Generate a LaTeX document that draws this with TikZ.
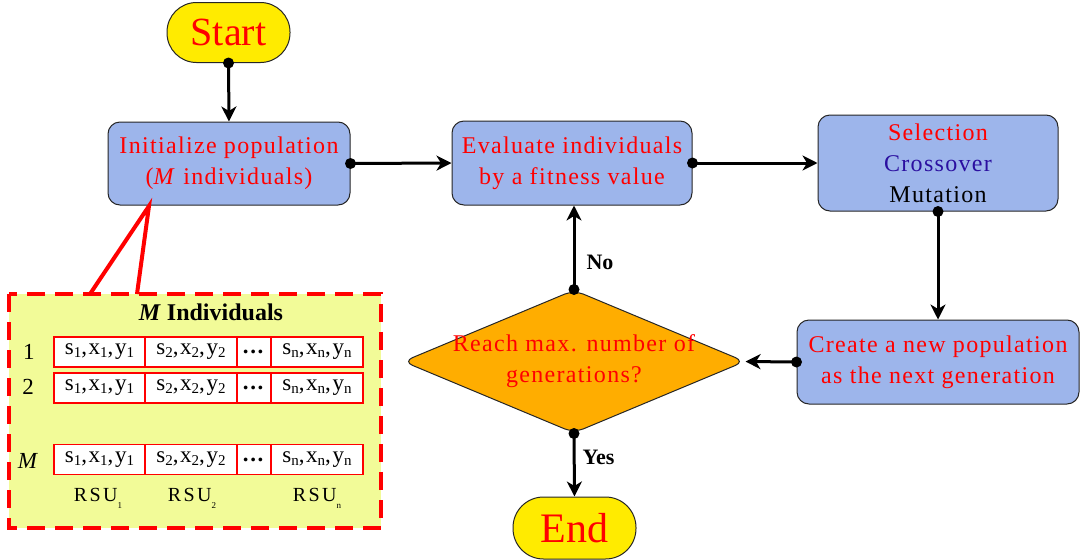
\documentclass[tikz,border=0pt]{standalone}
\usepackage{fontspec}
\setmainfont{Liberation Serif}
\newfontfamily\lsfont[LetterSpace=5.5]{Liberation Serif}
\newfontfamily\cellfont[LetterSpace=7]{Liberation Serif}
\newfontfamily\rsufont[LetterSpace=12]{Liberation Serif}
\usetikzlibrary{arrows.meta,shapes.geometric}
\definecolor{boxblue}{RGB}{157,181,235}
\definecolor{termyellow}{RGB}{255,235,0}
\definecolor{decorange}{RGB}{255,173,0}
\definecolor{panelfill}{RGB}{242,251,152}
\definecolor{crosscol}{RGB}{43,15,160}
\newcommand\csub[1]{\raisebox{-3pt}{\fontsize{15}{15}\selectfont #1}}
\newcommand\rsub[1]{\raisebox{-7pt}{\fontsize{9}{9}\selectfont #1}}
\newcommand\cellt[1]{s\csub{#1},x\csub{#1},y\csub{#1}}
\tikzset{
  proc/.style={draw=black!85, line width=1pt, fill=boxblue, rounded corners=12pt,
    align=center, text=red, inner sep=0pt, font=\lsfont\fontsize{24}{31}\selectfont},
  term/.style={draw=black!85, line width=1pt, fill=termyellow, rounded corners=29.5pt,
    minimum width=123pt, minimum height=60pt, text=red, inner sep=0pt},
  conn/.style={line width=3pt, -{Stealth[length=15pt,width=15pt,inset=4.5pt]}},
  cell/.style={draw=red, line width=1.5pt, fill=white, minimum height=30pt, inner sep=0pt,
    font=\cellfont\fontsize{23}{23}\selectfont},
  lbl/.style={font=\bfseries\fontsize{22}{22}\selectfont, anchor=west},
  rowlbl/.style={font=\fontsize{23}{23}\selectfont},
}
\begin{document}
\begin{tikzpicture}[x=1pt,y=-1pt]
\useasboundingbox (0,0) rectangle (1080,560);

% left panel
\draw[red, line width=4pt, dash pattern=on 18pt off 10pt, fill=panelfill] (9,294) rectangle (381,528);

% terminals and process boxes
\node[term, font=\fontsize{40}{40}\selectfont] (start) at (228.5,32.5) {Start};
\node[term, minimum height=62pt, rounded corners=30.5pt, font=\fontsize{42}{42}\selectfont] (end) at (574.5,528) {End};
\node[proc, minimum width=242pt, minimum height=83pt] (init) at (229,163.5)
  {Initialize population\\(\textit{M} individuals)};
\node[proc, minimum width=240pt, minimum height=84pt] (eval) at (572,163)
  {Evaluate individuals\\by a fitness value};
\node[proc, minimum width=240pt, minimum height=96pt] (sel) at (938,163)
  {Selection\\{\color{crosscol}Crossover}\\{\color{black}Mutation}};
\node[proc, minimum width=282pt, minimum height=84pt] (create) at (938,362)
  {Create a new population\\as the next generation};
\node[diamond, draw=black!85, line width=1pt, fill=decorange, aspect=2.39,
  minimum width=342pt, minimum height=143pt, rounded corners=10pt, inner sep=-15pt,
  align=center, text=red, font=\lsfont\fontsize{24}{31}\selectfont] (dia) at (574,361.5)
  {Reach max. number of\\generations?};

% connectors
\draw[conn] (start.south) -- (init.north);
\draw[conn] (init.east) -- (eval.west);
\draw[conn] (eval.east) -- (sel.west);
\draw[conn] (sel.south) -- (create.north);
\draw[conn] (create.west) -- (dia.east);
\draw[conn] (dia.north) -- (dia.north |- eval.south);
\draw[conn] (dia.south) -- (end.north);
\foreach \a in {start.south, init.east, eval.east, sel.south, create.west, dia.north, dia.south}
  \fill (\a) circle (5.5pt);

\node[lbl] (no) at (583,262) {No};
\node[lbl] (yes) at (579,457) {Yes};

% callout
\coordinate (tip) at (149,206);
\coordinate (pl) at (90,294);
\coordinate (pr) at (137,294);
\draw[red, line width=4pt, line join=miter] (pl) -- (tip) -- (pr);

% panel content
\node[font=\fontsize{24}{24}\selectfont] (title) at (211,312) {\textbf{\textit{M}} \textbf{Individuals}};
\node[rowlbl] (r1) at (29,352) {1};
\node[rowlbl] (r2) at (28,387) {2};
\node[rowlbl] (rm) at (28,461) {\textit{M}};
\foreach \r/\y in {1/352,2/388,m/459.5}{
  \node[cell, minimum width=91pt] (c\r a) at (99.5,\y) {\cellt{1}};
  \node[cell, minimum width=92pt] (c\r b) at (191,\y) {\cellt{2}};
  \node[cell, minimum width=34pt] (c\r c) at (254,\y) {\textbf{...}};
  \node[cell, minimum width=92pt] (c\r d) at (317,\y) {\cellt{n}};
}
\node[font=\rsufont\fontsize{20}{20}\selectfont] (rsu1) at (98,498) {RSU\rsub{1}};
\node[font=\rsufont\fontsize{20}{20}\selectfont] (rsu2) at (192,498) {RSU\rsub{2}};
\node[font=\rsufont\fontsize{20}{20}\selectfont] (rsun) at (317,498) {RSU\rsub{n}};
\end{tikzpicture}
\end{document}
